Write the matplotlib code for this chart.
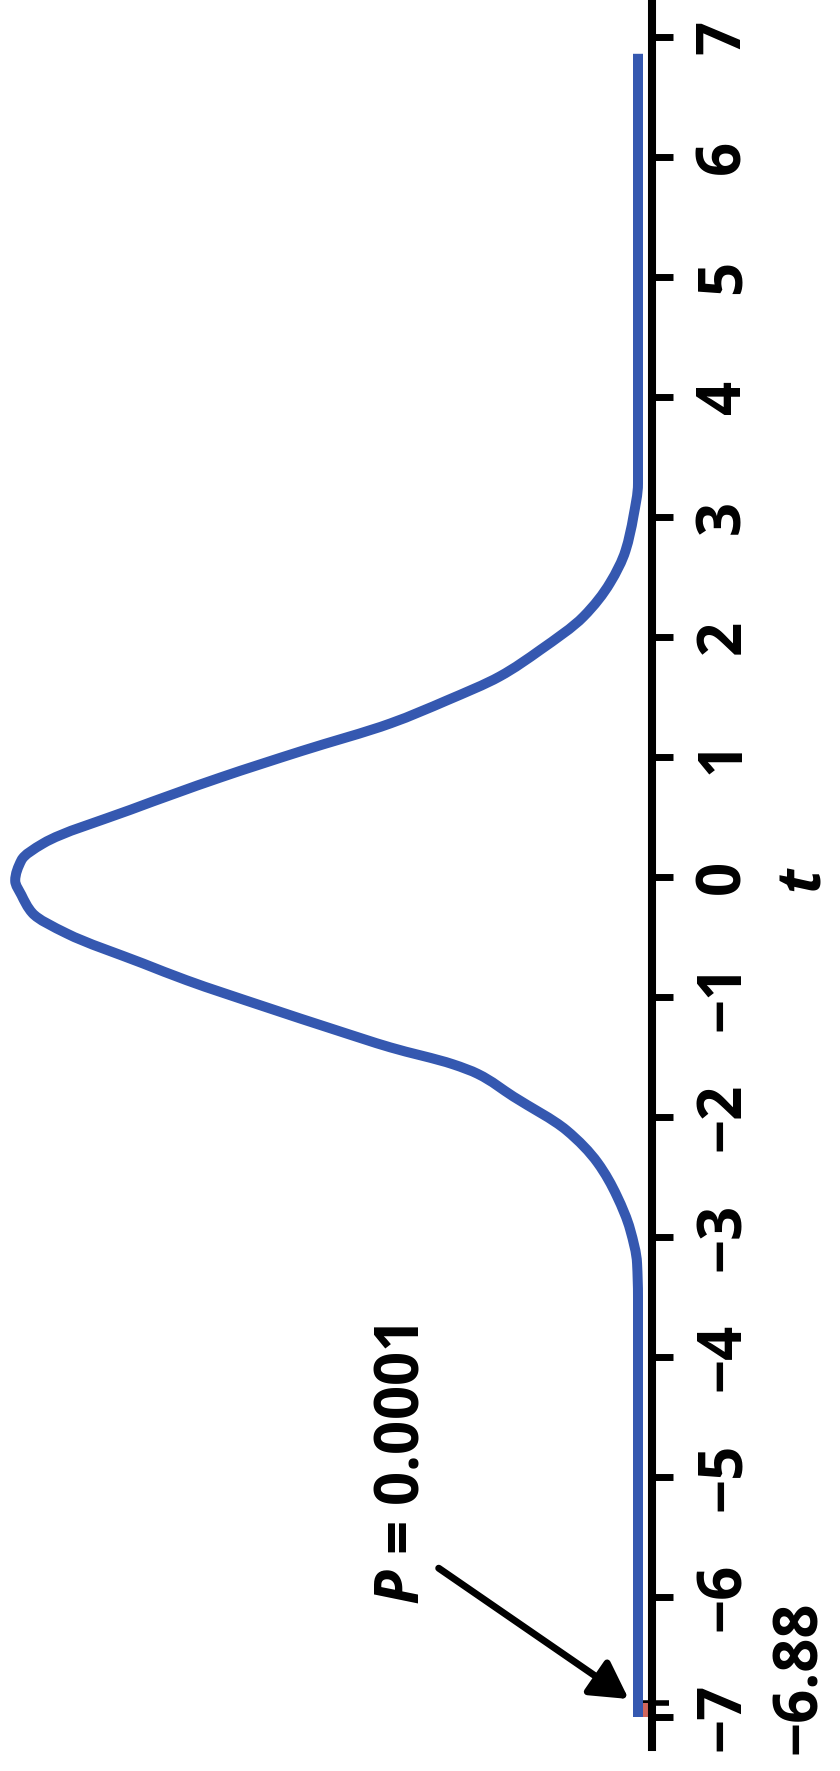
import numpy as np
import matplotlib
matplotlib.use("Agg")
import matplotlib.pyplot as plt
from matplotlib.path import Path
from matplotlib.patches import PathPatch
from matplotlib.ticker import FixedLocator

# Density curve of the t statistic (t on the vertical axis, density grows to the left)
t_vals = [-7.0, -3.5, -3.22, -2.94, -2.66, -2.38, -2.11, -1.83, -1.64, -1.56, -1.42,
          -1.28, -1.08, -0.86, -0.72, -0.47, -0.30, -0.15, -0.03, 0.14, 0.28, 0.56,
          0.83, 1.05, 1.28, 1.47, 1.67, 1.89, 2.17, 2.45, 2.72, 3.0, 3.28, 6.86]
density = [0.0, 0.0, 0.0006, 0.005, 0.0135, 0.026, 0.046, 0.080, 0.103, 0.119, 0.159,
           0.193, 0.240, 0.290, 0.318, 0.367, 0.389, 0.396, 0.400, 0.396, 0.382, 0.326,
           0.268, 0.216, 0.159, 0.123, 0.089, 0.063, 0.035, 0.018, 0.008, 0.003, 0.0, 0.0]

t_ticks = list(range(-7, 8))
t_observed = -6.88
tail_start = -7.0
p_label = "0.0001"

FONT = 'Open Sans'
plt.rcParams['font.family'] = [FONT, 'DejaVu Sans']
plt.rcParams['font.weight'] = 'bold'
plt.rcParams['mathtext.fontset'] = 'custom'
plt.rcParams['mathtext.it'] = f'{FONT}:italic:bold'
plt.rcParams['mathtext.rm'] = f'{FONT}:bold'

W, H = 840, 1771
fig = plt.figure(figsize=(W / 100, H / 100), dpi=100)
axis_px = 652
ax = fig.add_axes([0, 0, axis_px / W, 1])

px_per_t = 120.0
zero_px = 877
px_per_dens = 1557.0
base_px = 638
ax.set_ylim(-(H - zero_px) / px_per_t, zero_px / px_per_t)
ax.set_xlim(base_px / px_per_dens, -(axis_px - base_px) / px_per_dens)

blue = '#3558B0'
red = '#D0665C'


def smooth_path(t, d):
    """Shape-preserving cubic (PCHIP slopes) through the points, as Bezier segments."""
    t = np.asarray(t, float)
    d = np.asarray(d, float)
    h = np.diff(t)
    delta = np.diff(d) / h
    m = np.zeros_like(d)
    for k in range(1, len(d) - 1):
        if delta[k - 1] * delta[k] > 0:
            w1 = 2 * h[k] + h[k - 1]
            w2 = h[k] + 2 * h[k - 1]
            m[k] = (w1 + w2) / (w1 / delta[k - 1] + w2 / delta[k])
    verts = [(d[0], t[0])]
    codes = [Path.MOVETO]
    for k in range(len(d) - 1):
        verts += [(d[k] + m[k] * h[k] / 3, t[k] + h[k] / 3),
                  (d[k + 1] - m[k + 1] * h[k] / 3, t[k + 1] - h[k] / 3),
                  (d[k + 1], t[k + 1])]
        codes += [Path.CURVE4] * 3
    return Path(verts, codes)


# shaded tail up to the observed t
xr = ax.get_xlim()[1]
ax.fill_betweenx([tail_start, t_observed], xr, 0, color=red, lw=0, zorder=2)

curve = PathPatch(smooth_path(t_vals, density), fill=False, edgecolor=blue,
                  lw=7.2, capstyle='butt', joinstyle='round', zorder=3)
ax.add_patch(curve)

for s in ['left', 'top', 'bottom']:
    ax.spines[s].set_visible(False)
ax.spines['right'].set_linewidth(5.8)
ax.spines['right'].set_bounds(-7.25, 7.6)
ax.spines['right'].set_zorder(4)

ax.set_xticks([])
ax.yaxis.tick_right()
ax.set_yticks(t_ticks)
ax.set_yticklabels([f"{v}".replace('-', '\u2212') for v in t_ticks])
ax.yaxis.set_minor_locator(FixedLocator([t_observed]))
ax.tick_params(axis='y', which='major', direction='out', length=15, width=5,
               pad=15, labelsize=43, labelrotation=90)
ax.tick_params(axis='y', which='minor', direction='inout', length=24, width=4)
for lab in ax.get_yticklabels():
    lab.set_va('center')
    lab.set_ha('left')

ax.annotate(f"{t_observed}".replace('-', '\u2212'), xy=(1, t_observed),
            xycoords=('axes fraction', 'data'), xytext=(148, 25),
            textcoords='offset pixels', rotation=90, ha='center', va='center',
            fontsize=43, fontweight='bold', annotation_clip=False)

fig.text(805 / W, 1 - 880 / H, r'$t$', rotation=90, ha='center', va='center',
         fontsize=43)

fig.text(403 / W, 1 - 1465 / H, r'$P$ = ' + p_label, rotation=90, ha='center',
         va='center', fontsize=43, fontweight='bold')

ax.annotate('', xy=(0.006, -6.85), xytext=(0.128, -5.76),
            arrowprops=dict(arrowstyle='-|>,head_length=0.8,head_width=0.45',
                            mutation_scale=28, lw=5, color='black',
                            shrinkA=0, shrinkB=0), zorder=5)

fig.savefig('out.png', dpi=100, facecolor='white')
